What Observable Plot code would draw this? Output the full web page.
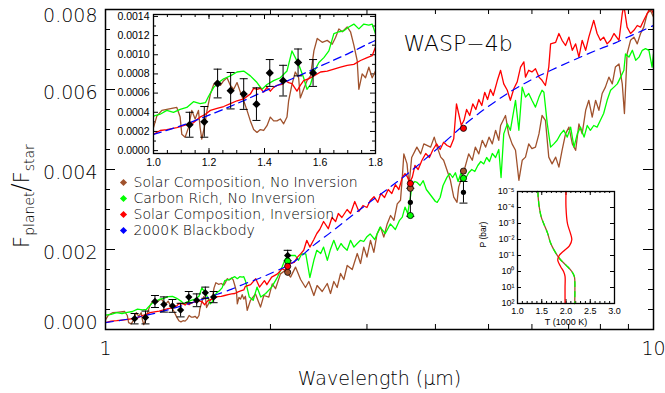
<!DOCTYPE html>
<html>
<head>
<meta charset="utf-8">
<script src="https://cdn.jsdelivr.net/npm/d3@7"></script>
<script src="https://cdn.jsdelivr.net/npm/@observablehq/plot@0.6"></script>
<style>
  body { margin: 0; background: #fff; }
  #chart { position: relative; width: 665px; height: 393px; overflow: hidden; background: #fff; }
  #chart svg { position: absolute; overflow: visible; }
</style>
</head>
<body>
<div id="chart"></div>
<script>
// ---- Model spectra: [wavelength (µm), F_planet / F_star] ----
const solarNoInversion = [
  [1.000,0.00024],[1.012,0.00036],[1.030,0.00042],[1.048,0.00043],[1.066,0.00044],[1.084,0.00045],[1.096,0.00035],[1.102,0.00017],
  [1.114,0.00014],[1.126,0.00024],[1.138,0.00042],[1.150,0.00033],[1.162,0.00042],[1.168,0.00024],[1.174,0.00012],[1.183,0.00024],
  [1.193,0.00042],[1.205,0.00059],[1.217,0.00069],[1.229,0.00073],[1.241,0.00068],[1.253,0.00073],[1.265,0.00076],[1.277,0.00068],
  [1.289,0.00064],[1.301,0.00071],[1.313,0.00061],[1.325,0.00052],[1.337,0.00042],[1.349,0.00031],[1.361,0.00022],[1.373,0.00019],
  [1.385,0.00022],[1.397,0.00021],[1.409,0.00026],[1.421,0.00035],[1.433,0.00031],[1.445,0.00031],[1.457,0.00033],[1.469,0.00028],
  [1.481,0.00035],[1.487,0.00052],[1.499,0.00069],[1.511,0.00082],[1.523,0.00076],[1.529,0.00055],[1.541,0.00064],[1.553,0.00073],
  [1.566,0.00078],[1.578,0.00104],[1.590,0.00117],[1.608,0.00113],[1.626,0.00115],[1.644,0.00111],[1.656,0.00118],[1.668,0.00127],
  [1.680,0.00124],[1.698,0.00129],[1.710,0.00124],[1.722,0.00110],[1.734,0.00094],[1.740,0.00064],[1.752,0.00080],[1.764,0.00076],
  [1.776,0.00087],[1.788,0.00076],[1.800,0.00083],[1.814,0.00048],[1.839,0.00073],[1.878,0.00089],[1.918,0.00056],[1.945,0.00085],
  [1.986,0.00081],[2.015,0.00114],[2.043,0.00102],[2.086,0.00139],[2.130,0.00148],[2.176,0.00131],[2.222,0.00156],[2.270,0.00125],
  [2.317,0.00105],[2.350,0.00120],[2.400,0.00085],[2.433,0.00110],[2.486,0.00095],[2.539,0.00115],[2.574,0.00090],[2.610,0.00120],
  [2.647,0.00105],[2.685,0.00140],[2.722,0.00125],[2.761,0.00160],[2.820,0.00150],[2.880,0.00190],[2.920,0.00165],[2.960,0.00206],
  [3.000,0.00181],[3.045,0.00223],[3.088,0.00193],[3.130,0.00239],[3.177,0.00256],[3.220,0.00231],[3.266,0.00264],[3.313,0.00285],
  [3.360,0.00273],[3.407,0.00314],[3.454,0.00323],[3.480,0.00380],[3.503,0.00439],[3.550,0.00414],[3.580,0.00360],[3.620,0.00430],
  [3.700,0.00456],[3.760,0.00439],[3.810,0.00464],[3.920,0.00456],[3.980,0.00481],[4.030,0.00456],[4.090,0.00431],[4.140,0.00423],
  [4.200,0.00398],[4.260,0.00373],[4.320,0.00331],[4.380,0.00318],[4.410,0.00356],[4.470,0.00381],[4.530,0.00406],[4.600,0.00439],
  [4.670,0.00423],[4.730,0.00456],[4.800,0.00439],[4.870,0.00473],[4.940,0.00456],[5.010,0.00481],[5.080,0.00464],[5.150,0.00498],
  [5.220,0.00473],[5.260,0.00510],[5.370,0.00535],[5.440,0.00489],[5.520,0.00464],[5.600,0.00448],[5.680,0.00373],[5.760,0.00423],
  [5.840,0.00431],[5.920,0.00464],[6.000,0.00452],[6.090,0.00456],[6.180,0.00489],[6.260,0.00535],[6.350,0.00523],[6.440,0.00431],
  [6.530,0.00414],[6.630,0.00431],[6.720,0.00406],[6.810,0.00448],[6.910,0.00489],[7.010,0.00506],[7.110,0.00464],[7.210,0.00448],
  [7.310,0.00514],[7.410,0.00489],[7.520,0.00548],[7.620,0.00573],[7.730,0.00531],[7.840,0.00573],[7.950,0.00548],[8.060,0.00590],
  [8.170,0.00606],[8.290,0.00631],[8.410,0.00614],[8.520,0.00656],[8.650,0.00664],[8.770,0.00614],[8.850,0.00540],[8.950,0.00689],
  [9.080,0.00723],[9.210,0.00731],[9.340,0.00714],[9.470,0.00740],[9.600,0.00756],[9.740,0.00790],[9.870,0.00798],[10.00,0.00781]
];

const carbonRich = [
  [1.000,0.00036],[1.024,0.00038],[1.048,0.00042],[1.072,0.00040],[1.096,0.00043],[1.120,0.00045],[1.144,0.00051],[1.168,0.00049],
  [1.187,0.00050],[1.199,0.00057],[1.217,0.00066],[1.235,0.00071],[1.253,0.00075],[1.277,0.00078],[1.301,0.00082],[1.325,0.00083],
  [1.349,0.00078],[1.373,0.00071],[1.391,0.00064],[1.409,0.00069],[1.433,0.00073],[1.457,0.00076],[1.481,0.00083],[1.499,0.00104],
  [1.511,0.00097],[1.523,0.00090],[1.541,0.00076],[1.553,0.00064],[1.566,0.00069],[1.578,0.00082],[1.596,0.00092],[1.614,0.00097],
  [1.632,0.00104],[1.650,0.00122],[1.668,0.00124],[1.686,0.00125],[1.704,0.00129],[1.722,0.00132],[1.740,0.00127],[1.758,0.00132],
  [1.776,0.00131],[1.788,0.00132],[1.800,0.00122],[1.830,0.00081],[1.860,0.00073],[1.890,0.00106],[1.920,0.00081],[1.960,0.00090],
  [2.010,0.00106],[2.060,0.00131],[2.100,0.00156],[2.130,0.00177],[2.170,0.00185],[2.220,0.00185],[2.250,0.00173],[2.280,0.00189],
  [2.320,0.00189],[2.360,0.00130],[2.400,0.00173],[2.430,0.00198],[2.470,0.00190],[2.500,0.00206],[2.540,0.00173],[2.570,0.00198],
  [2.610,0.00223],[2.650,0.00198],[2.690,0.00215],[2.720,0.00206],[2.760,0.00198],[2.800,0.00223],[2.840,0.00206],[2.880,0.00215],
  [2.920,0.00223],[2.960,0.00220],[3.000,0.00232],[3.040,0.00239],[3.100,0.00225],[3.170,0.00256],[3.240,0.00240],[3.310,0.00264],
  [3.380,0.00250],[3.440,0.00273],[3.480,0.00281],[3.520,0.00306],[3.560,0.00290],[3.600,0.00330],[3.630,0.00364],[3.670,0.00370],
  [3.700,0.00368],[3.750,0.00360],[3.800,0.00372],[3.850,0.00350],[3.900,0.00340],[3.950,0.00330],[4.000,0.00320],[4.030,0.00318],
  [4.080,0.00330],[4.130,0.00360],[4.200,0.00381],[4.250,0.00390],[4.300,0.00380],[4.350,0.00392],[4.400,0.00370],[4.450,0.00390],
  [4.500,0.00381],[4.550,0.00380],[4.600,0.00392],[4.660,0.00400],[4.720,0.00395],[4.780,0.00410],[4.840,0.00420],[4.900,0.00414],
  [4.960,0.00430],[5.020,0.00420],[5.080,0.00440],[5.150,0.00430],[5.220,0.00450],[5.270,0.00380],[5.330,0.00489],[5.410,0.00514],
  [5.480,0.00498],[5.560,0.00548],[5.600,0.00573],[5.680,0.00498],[5.760,0.00606],[5.840,0.00581],[5.920,0.00590],[6.000,0.00573],
  [6.090,0.00556],[6.180,0.00581],[6.260,0.00598],[6.310,0.00593],[6.400,0.00514],[6.490,0.00456],[6.580,0.00464],[6.670,0.00473],
  [6.770,0.00489],[6.860,0.00498],[6.960,0.00481],[7.060,0.00506],[7.160,0.00456],[7.260,0.00489],[7.360,0.00506],[7.470,0.00481],
  [7.570,0.00510],[7.670,0.00498],[7.780,0.00510],[7.890,0.00506],[8.000,0.00523],[8.110,0.00540],[8.230,0.00573],[8.350,0.00598],
  [8.470,0.00606],[8.590,0.00614],[8.710,0.00631],[8.830,0.00648],[8.890,0.00689],[9.020,0.00681],[9.150,0.00698],[9.280,0.00673],
  [9.410,0.00681],[9.540,0.00698],[9.670,0.00702],[9.810,0.00698],[9.940,0.00656],[10.00,0.00689]
];

const solarInversion = [
  [1.000,0.00017],[1.024,0.00021],[1.048,0.00022],[1.084,0.00024],[1.120,0.00027],[1.144,0.00029],[1.168,0.00035],[1.187,0.00038],
  [1.205,0.00042],[1.229,0.00044],[1.253,0.00046],[1.277,0.00049],[1.301,0.00052],[1.325,0.00054],[1.349,0.00059],[1.361,0.00065],
  [1.373,0.00064],[1.385,0.00065],[1.397,0.00061],[1.409,0.00066],[1.421,0.00062],[1.433,0.00066],[1.445,0.00068],[1.463,0.00069],
  [1.475,0.00073],[1.487,0.00071],[1.499,0.00070],[1.517,0.00062],[1.529,0.00068],[1.541,0.00073],[1.560,0.00075],[1.578,0.00078],
  [1.602,0.00082],[1.626,0.00083],[1.650,0.00085],[1.674,0.00087],[1.698,0.00089],[1.722,0.00090],[1.746,0.00094],[1.770,0.00097],
  [1.788,0.00099],[1.800,0.00108],[1.840,0.00112],[1.880,0.00127],[1.910,0.00106],[1.950,0.00122],[1.970,0.00112],[2.010,0.00131],
  [2.060,0.00139],[2.100,0.00152],[2.130,0.00148],[2.160,0.00164],[2.210,0.00168],[2.240,0.00181],[2.270,0.00189],[2.300,0.00198],
  [2.330,0.00223],[2.360,0.00206],[2.400,0.00225],[2.430,0.00240],[2.460,0.00250],[2.500,0.00270],[2.550,0.00252],[2.590,0.00280],
  [2.630,0.00270],[2.660,0.00290],[2.700,0.00280],[2.760,0.00300],[2.800,0.00290],[2.850,0.00320],[2.900,0.00295],[2.950,0.00310],
  [3.000,0.00305],[3.040,0.00322],[3.090,0.00332],[3.140,0.00318],[3.180,0.00340],[3.230,0.00330],[3.280,0.00350],[3.330,0.00340],
  [3.380,0.00362],[3.430,0.00350],[3.480,0.00380],[3.520,0.00390],[3.560,0.00380],[3.590,0.00368],[3.630,0.00381],[3.670,0.00410],
  [3.720,0.00400],[3.780,0.00423],[3.840,0.00440],[3.900,0.00430],[3.960,0.00450],[4.020,0.00464],[4.080,0.00450],[4.140,0.00468],
  [4.200,0.00460],[4.260,0.00456],[4.320,0.00477],[4.370,0.00564],[4.410,0.00540],[4.460,0.00510],[4.510,0.00523],[4.560,0.00550],
  [4.620,0.00535],[4.680,0.00564],[4.740,0.00550],[4.800,0.00575],[4.860,0.00560],[4.920,0.00593],[4.980,0.00575],[5.040,0.00600],
  [5.100,0.00585],[5.190,0.00623],[5.260,0.00648],[5.330,0.00614],[5.410,0.00598],[5.480,0.00573],[5.560,0.00602],[5.640,0.00619],
  [5.720,0.00656],[5.800,0.00669],[5.840,0.00631],[5.920,0.00648],[6.000,0.00644],[6.090,0.00652],[6.180,0.00631],[6.260,0.00623],
  [6.350,0.00610],[6.440,0.00656],[6.490,0.00714],[6.630,0.00718],[6.720,0.00740],[6.810,0.00723],[6.910,0.00710],[7.010,0.00731],
  [7.110,0.00698],[7.210,0.00714],[7.310,0.00681],[7.410,0.00723],[7.520,0.00698],[7.620,0.00731],[7.780,0.00773],[7.890,0.00740],
  [8.000,0.00723],[8.110,0.00731],[8.230,0.00714],[8.350,0.00723],[8.470,0.00740],[8.650,0.00723],[8.770,0.00790],[8.830,0.00810],
  [8.950,0.00756],[9.080,0.00740],[9.210,0.00748],[9.340,0.00760],[9.470,0.00756],[9.600,0.00773],[9.740,0.00790],[9.870,0.00805],
  [10.00,0.00790]
];

const blackbody2000K = [
  [1.0,0.00017],[1.1,0.00026],[1.2,0.00037],[1.3,0.00049],[1.4,0.00062],[1.5,0.00075],[1.6,0.00088],[1.7,0.00101],[1.8,0.00115],
  [1.9,0.00127],[2.0,0.00140],[2.2,0.00168],[2.4,0.00211],[2.6,0.00247],[2.8,0.00282],[3.0,0.00313],[3.3,0.00355],[3.6,0.00395],
  [4.0,0.00448],[4.5,0.00510],[5.0,0.00558],[5.5,0.00596],[6.0,0.00625],[6.5,0.00648],[7.0,0.00668],[7.5,0.00686],[8.0,0.00702],
  [8.5,0.00716],[9.0,0.00732],[9.5,0.00746],[10.0,0.00760]
];

// ---- Measured eclipse depths ----
const hstWl   = [1.130, 1.183, 1.231, 1.278, 1.325, 1.371, 1.419, 1.467, 1.521, 1.575];
const hstFlux = [0.00027, 0.00030, 0.00070, 0.000625, 0.00059, 0.000485, 0.00081, 0.00073, 0.00092, 0.00081];
const hstErr  = [0.00013, 0.00016, 0.00015, 0.00019, 0.00016, 0.00017, 0.00014, 0.00016, 0.00014, 0.00014];

const ksWl = [2.15], ksFlux = [0.00185], ksErr = [0.00013];
const spitzerWl = [3.6, 4.5], spitzerFlux = [0.00318, 0.00343], spitzerErr = [0.00035, 0.00027];

// Band-integrated model values at the photometric points
const bandWl = [2.15, 3.6, 4.5];
const bandSolarNoInversion = [0.00143, 0.00353, 0.00396];
const bandCarbonRich       = [0.00171, 0.00285, 0.00378];
const bandSolarInversion   = [0.00158, 0.00365, 0.00503];

// ---- Temperature–pressure profiles: [T (1000 K), P (bar)] ----
const tpNoInversion = [
  [1.42,1e-5],[1.43,3e-5],[1.45,1e-4],[1.49,4e-4],[1.54,1e-3],[1.62,4e-3],[1.68,1.6e-2],[1.76,5e-2],
  [1.87,1.6e-1],[2.00,4e-1],[2.12,1],[2.17,2],[2.18,3],[2.18,100]
];
const tpInversion = [
  [2.00,1e-5],[2.00,1e-4],[2.03,1e-3],[2.09,4e-3],[2.12,1e-2],[2.07,2.5e-2],[1.96,5e-2],[1.86,1e-1],
  [1.83,2e-1],[1.89,5e-1],[1.95,1],[1.98,2],[1.98,10],[1.98,100]
];

const legendNames = ["Solar Composition, No Inversion", "Carbon Rich, No Inversion", "Solar Composition, Inversion", "2000K Blackbody"];
const brown = "#A0522D", green = "#00FF00", red = "#FF0000", blue = "#0000FF";
const legendColors = [brown, green, red, blue];

// ---- helpers ----
const FONT = "DejaVu Sans";
const capSymbol = { draw(ctx, size) { const r = Math.sqrt(size / Math.PI); ctx.moveTo(-r, 0); ctx.lineTo(r, 0); } };
const rows = (wl, v, e) => wl.map((w, i) => ({w, v: v[i], lo: e ? v[i] - e[i] : null, hi: e ? v[i] + e[i] : null}));

function errorBars(data, capR) {
  return [
    Plot.ruleX(data, {x: "w", y1: "lo", y2: "hi", stroke: "black", strokeWidth: 1}),
    Plot.dot(data, {x: "w", y: "lo", symbol: capSymbol, r: capR, stroke: "black", fill: "none", strokeWidth: 1}),
    Plot.dot(data, {x: "w", y: "hi", symbol: capSymbol, r: capR, stroke: "black", fill: "none", strokeWidth: 1})
  ];
}
// inward ticks on all four sides of a frame
function boxTicks(xVals, yVals, len, fw, fh, sw = 1) {
  return [
    Plot.tickX(xVals, {x: d => d, insetTop: fh - len, stroke: "black", strokeWidth: sw}),
    Plot.tickX(xVals, {x: d => d, insetBottom: fh - len, stroke: "black", strokeWidth: sw}),
    Plot.tickY(yVals, {y: d => d, insetRight: fw - len, stroke: "black", strokeWidth: sw}),
    Plot.tickY(yVals, {y: d => d, insetLeft: fw - len, stroke: "black", strokeWidth: sw})
  ];
}

const hst = rows(hstWl, hstFlux, hstErr);
const ks = rows(ksWl, ksFlux, ksErr);
const spitzer = rows(spitzerWl, spitzerFlux, spitzerErr);
const bands = [
  ...rows(bandWl, bandSolarNoInversion).map(d => ({...d, c: brown})),
  ...rows(bandWl, bandCarbonRich).map(d => ({...d, c: green})),
  ...rows(bandWl, bandSolarInversion).map(d => ({...d, c: red}))
];

const chart = document.getElementById("chart");

// ---- main panel ----
const W = 665, H = 393, mL = 105, mR = 12, mT = 9, mB = 64;
const fw = W - mL - mR, fh = H - mT - mB;
const yFmt = d3.format(".3f");
const yAxisOpts = {tickFormat: yFmt, tickSize: 0, tickPadding: 8, fontSize: 19, label: null};
const mainPlot = Plot.plot({
  width: W, height: H, marginLeft: mL, marginRight: mR, marginTop: mT, marginBottom: mB,
  style: {fontFamily: FONT, fontWeight: 200, fontSize: "19px", background: "transparent", left: "0px", top: "0px"},
  x: {type: "log", domain: [1, 10]},
  y: {domain: [0, 0.008]},
  color: {type: "identity"},
  marks: [
    ...boxTicks([1, 10], [0, 0.002, 0.004, 0.006, 0.008], 10, fw, fh),
    ...boxTicks([2, 3, 4, 5, 6, 7, 8, 9], d3.range(0.0005, 0.008, 0.0005), 5, fw, fh),
    Plot.line(solarNoInversion, {x: d => d[0], y: d => d[1], stroke: brown, strokeWidth: 1.3, clip: true}),
    Plot.line(carbonRich, {x: d => d[0], y: d => d[1], stroke: green, strokeWidth: 1.3, clip: true}),
    Plot.line(solarInversion, {x: d => d[0], y: d => d[1], stroke: red, strokeWidth: 1.3, clip: true}),
    Plot.line(blackbody2000K, {x: d => d[0], y: d => d[1], stroke: blue, strokeWidth: 1.2, strokeDasharray: "8,6", curve: "catmull-rom", clip: true}),
    ...errorBars(hst, 4),
    ...errorBars(ks, 4),
    ...errorBars(spitzer, 4),
    Plot.dot(hst, {x: "w", y: "v", symbol: "diamond2", r: 3.3, fill: "black"}),
    Plot.dot(ks, {x: "w", y: "v", symbol: "diamond2", r: 3.3, fill: "black"}),
    Plot.dot(spitzer, {x: "w", y: "v", r: 2.6, fill: "black"}),
    Plot.dot(bands, {x: "w", y: "v", r: 3.1, fill: "c", stroke: "black", strokeWidth: 0.8}),
    Plot.frame({stroke: "black", strokeWidth: 1.5}),
    Plot.axisX({ticks: [1, 10], tickFormat: d => String(d), tickSize: 0, tickPadding: 12, fontSize: 19, label: null}),
    // tick labels sit slightly inside the frame at the two ends
    Plot.axisY({...yAxisOpts, ticks: [0.008], dy: 6}),
    Plot.axisY({...yAxisOpts, ticks: [0.002, 0.004, 0.006], dy: 3}),
    Plot.axisY({...yAxisOpts, ticks: [0], dy: -7}),
    Plot.text(["Wavelength (μm)"], {frameAnchor: "bottom", dy: 49, lineAnchor: "middle", fontSize: 19, fill: "black"}),
    Plot.text(["WASP−4b"], {frameAnchor: "top-left", dx: 298, dy: 34, textAnchor: "start", lineAnchor: "middle", fontSize: 22, fill: "black"})
  ]
});
chart.appendChild(mainPlot);

// y-axis title with subscripts
const yl = d3.select(mainPlot).append("text")
  .attr("transform", "translate(29,196) rotate(-90)")
  .attr("text-anchor", "middle").attr("font-family", FONT).attr("font-weight", 200)
  .attr("font-size", 21).attr("fill", "black");
yl.append("tspan").text("F");
yl.append("tspan").attr("font-size", 14).attr("dy", 5).text("planet");
yl.append("tspan").attr("font-size", 24).attr("dy", -5).text("/");
yl.append("tspan").text("F");
yl.append("tspan").attr("font-size", 14).attr("dy", 5).text("star");

// ---- legend ----
const legendPlot = Plot.plot({
  width: 260, height: 72, marginLeft: 8, marginRight: 0, marginTop: 0, marginBottom: 0,
  style: {fontFamily: FONT, fontWeight: 200, background: "transparent", left: "115px", top: "170px"},
  y: {type: "point", domain: legendNames, range: [11.7, 60], padding: 0, axis: null},
  color: {type: "identity"},
  marks: [
    Plot.dot(legendNames, {y: d => d, frameAnchor: "left", symbol: "diamond2", r: 3.2, fill: (d, i) => legendColors[i]}),
    Plot.text(legendNames, {y: d => d, frameAnchor: "left", dx: 10, textAnchor: "start", text: d => d, fontSize: 14, fill: "black"})
  ]
});
chart.appendChild(legendPlot);

// ---- near-infrared inset ----
const iw = 280, ih = 180, iL = 53, iR = 5, iT = 14, iB = 27;
const ifw = iw - iL - iR, ifh = ih - iT - iB;
const insetPlot = Plot.plot({
  width: iw, height: ih, marginLeft: iL, marginRight: iR, marginTop: iT, marginBottom: iB,
  style: {fontFamily: "Liberation Sans", fontSize: "10.5px", background: "transparent", left: "100px", top: "0px"},
  x: {domain: [1.0, 1.8]},
  y: {domain: [-0.00003, 0.00142]},
  marks: [
    ...boxTicks([1.0, 1.2, 1.4, 1.6, 1.8], d3.range(0, 0.00141, 0.0002), 5, ifw, ifh),
    ...boxTicks(d3.range(1.05, 1.8, 0.05), d3.range(0.0001, 0.00141, 0.0002), 3, ifw, ifh),
    Plot.line(solarNoInversion, {x: d => d[0], y: d => d[1], stroke: brown, strokeWidth: 1.3, clip: true}),
    Plot.line(carbonRich, {x: d => d[0], y: d => d[1], stroke: green, strokeWidth: 1.3, clip: true}),
    Plot.line(solarInversion, {x: d => d[0], y: d => d[1], stroke: red, strokeWidth: 1.3, clip: true}),
    Plot.line(blackbody2000K, {x: d => d[0], y: d => d[1], stroke: blue, strokeWidth: 1.3, strokeDasharray: "8,5", curve: "catmull-rom", clip: true}),
    ...errorBars(hst, 4),
    Plot.dot(hst, {x: "w", y: "v", symbol: "diamond2", r: 3.7, fill: "black"}),
    Plot.frame({stroke: "black", strokeWidth: 1.3}),
    Plot.axisX({ticks: [1.0, 1.2, 1.4, 1.6, 1.8], tickFormat: d3.format(".1f"), tickSize: 0, tickPadding: 5, label: null}),
    Plot.axisY({ticks: d3.range(0, 0.00141, 0.0002), tickFormat: d3.format(".4f"), tickSize: 0, tickPadding: 4, label: null})
  ]
});
chart.appendChild(insetPlot);

// ---- temperature–pressure inset ----
const sup = {"-": "⁻", "0": "⁰", "1": "¹", "2": "²", "3": "³", "4": "⁴", "5": "⁵"};
const pw = 150, ph = 160, pL = 47, pR = 6, pT = 11, pB = 37;
const pfw = pw - pL - pR, pfh = ph - pT - pB;
const pDecades = [1e-5, 1e-4, 1e-3, 1e-2, 1e-1, 1, 10, 100];
const tpPlot = Plot.plot({
  width: pw, height: ph, marginLeft: pL, marginRight: pR, marginTop: pT, marginBottom: pB,
  style: {fontFamily: "Liberation Sans", fontSize: "9px", background: "transparent", left: "470px", top: "180px"},
  x: {domain: [1, 3]},
  y: {type: "log", domain: [1e-5, 1e2], reverse: true},
  marks: [
    ...boxTicks([1, 1.5, 2, 2.5, 3], pDecades, 4, pfw, pfh),
    ...boxTicks(d3.range(1.1, 3, 0.1), [], 2, pfw, pfh),
    Plot.line(tpNoInversion, {x: d => d[0], y: d => d[1], stroke: brown, strokeWidth: 1.3, curve: "catmull-rom"}),
    Plot.line(tpNoInversion, {x: d => d[0], y: d => d[1], stroke: green, strokeWidth: 1.3, strokeDasharray: "5,5", curve: "catmull-rom"}),
    Plot.line(tpInversion, {x: d => d[0], y: d => d[1], stroke: red, strokeWidth: 1.3, curve: "catmull-rom"}),
    Plot.frame({stroke: "black", strokeWidth: 1.3}),
    Plot.axisX({ticks: [1, 1.5, 2, 2.5, 3], tickFormat: d3.format(".1f"), tickSize: 0, tickPadding: 4, label: null}),
    Plot.axisY({ticks: pDecades, tickFormat: d => "10" + String(Math.round(Math.log10(d))).replace(/./g, c => sup[c]), tickSize: 0, tickPadding: 3, label: null}),
    Plot.text(["T (1000 K)"], {frameAnchor: "bottom", dy: 19, lineAnchor: "middle", fontSize: 9, fill: "black"}),
    Plot.text(["P (bar)"], {frameAnchor: "left", dx: -34, rotate: -90, fontSize: 8.5, fill: "black"})
  ]
});
chart.appendChild(tpPlot);
</script>
</body>
</html>
